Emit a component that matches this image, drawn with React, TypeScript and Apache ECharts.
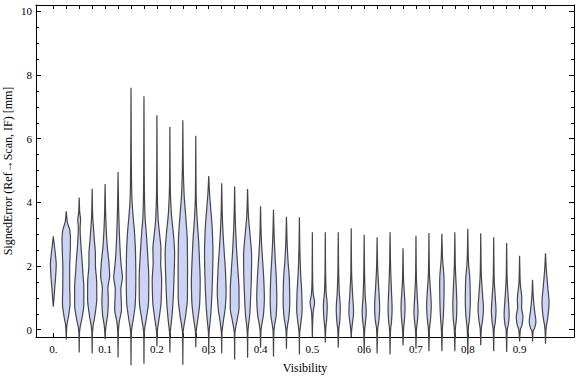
import React, { useEffect, useRef } from "react";
import * as echarts from "echarts";

// Violin positions are indices 0..38 (visibility 0, 0.025, ..., 0.95)
const xTickLabels = ["0.", "0.1", "0.2", "0.3", "0.4", "0.5", "0.6", "0.7", "0.8", "0.9"];
const xLabelPositions = [0, 4, 8, 12, 16, 20, 24, 28, 32, 36];
const violinPositions = [
  0, 1, 2, 3, 4, 5, 6, 7, 8, 9, 10, 11, 12, 13, 14, 15, 16, 17, 18, 19,
  20, 21, 22, 23, 24, 25, 26, 27, 28, 29, 30, 31, 32, 33, 34, 35, 36, 37, 38,
];
const yMajorTicks = [0, 2, 4, 6, 8, 10];
const yMinorTicks = [
  0, 0.5, 1, 1.5, 2, 2.5, 3, 3.5, 4, 4.5, 5, 5.5, 6, 6.5, 7, 7.5, 8, 8.5, 9, 9.5, 10,
];

// Each violin: [signed error (mm), density half-width] from max down to min
const violinProfiles: number[][][] = [
  [[2.93, 0], [2.6, 1.2], [2.3, 2.3], [2.05, 2.9], [1.7, 2.4], [1.3, 1.4], [0.95, 0.6], [0.72, 0]],
  [[3.72, 0], [3.4, 1.0], [3.1, 3.6], [2.85, 4.2], [2.4, 3.9], [1.9, 3.4], [1.3, 3.5], [0.85, 3.8], [0.45, 2.4], [0.12, 0.6], [-0.05, 0.3], [-0.31, 0]],
  [[4.15, 0], [3.7, 0.5], [3.45, 1.4], [3.2, 0.9], [2.7, 1.6], [2.2, 2.8], [1.8, 3.6], [1.3, 4.6], [0.8, 4.6], [0.4, 3.0], [0.05, 0.8], [-0.1, 0.3], [-0.72, 0]],
  [[4.43, 0], [3.6, 0.5], [3.2, 1.3], [2.8, 2.2], [2.4, 3.2], [2.0, 3.3], [1.5, 4.5], [1.0, 4.6], [0.5, 3.0], [0.1, 0.9], [-0.1, 0.3], [-0.75, 0]],
  [[4.58, 0], [3.7, 0.5], [3.1, 1.2], [2.6, 2.2], [2.1, 3.8], [1.7, 4.5], [1.3, 2.8], [0.9, 3.2], [0.5, 2.6], [0.1, 0.8], [-0.1, 0.3], [-0.3, 0]],
  [[4.95, 0], [3.9, 0.5], [3.3, 1.0], [2.8, 1.6], [2.4, 2.2], [2.0, 3.2], [1.65, 4.3], [1.25, 2.8], [0.65, 3.4], [0.2, 1.0], [-0.1, 0.3], [-0.87, 0]],
  [[7.6, 0], [5.0, 0.4], [4.2, 0.8], [3.6, 2.0], [3.0, 3.6], [2.4, 4.5], [1.6, 4.8], [0.9, 4.4], [0.4, 2.6], [0.05, 0.8], [-0.1, 0.3], [-1.12, 0]],
  [[7.33, 0], [4.5, 0.4], [3.6, 1.0], [3.0, 2.4], [2.3, 3.8], [1.6, 4.8], [0.9, 4.6], [0.4, 2.6], [0.05, 0.8], [-0.1, 0.3], [-1.07, 0]],
  [[6.74, 0], [4.3, 0.4], [3.5, 1.2], [2.9, 3.0], [2.55, 4.0], [2.1, 3.8], [1.55, 4.7], [0.9, 4.2], [0.4, 2.4], [0.05, 0.8], [-0.1, 0.3], [-0.53, 0]],
  [[6.37, 0], [4.5, 0.4], [3.7, 1.4], [3.0, 3.5], [2.4, 4.7], [1.7, 4.2], [0.9, 3.2], [0.4, 2.0], [0.05, 0.8], [-0.1, 0.3], [-0.72, 0]],
  [[6.58, 0], [5.2, 0.4], [4.3, 1.2], [3.6, 2.8], [2.8, 4.4], [1.9, 4.7], [1.0, 4.6], [0.45, 2.8], [0.05, 0.8], [-0.1, 0.3], [-1.1, 0]],
  [[6.09, 0], [4.2, 0.4], [3.5, 1.3], [2.8, 2.8], [2.1, 3.8], [1.5, 4.4], [0.9, 4.0], [0.4, 2.4], [0.05, 0.8], [-0.1, 0.3], [-0.55, 0]],
  [[4.83, 0], [4.3, 0.8], [3.8, 2.0], [3.1, 3.6], [2.4, 4.2], [1.7, 3.8], [1.0, 3.0], [0.4, 1.8], [0.05, 0.7], [-0.1, 0.3], [-0.78, 0]],
  [[4.6, 0], [3.6, 0.6], [2.9, 1.6], [2.4, 2.6], [1.8, 3.8], [1.2, 4.4], [0.7, 3.6], [0.3, 1.8], [0.0, 0.6], [-0.1, 0.3], [-0.75, 0]],
  [[4.5, 0], [3.5, 0.6], [2.6, 1.8], [1.9, 3.2], [1.2, 4.4], [0.7, 4.4], [0.3, 2.4], [0.0, 0.7], [-0.1, 0.3], [-0.94, 0]],
  [[4.42, 0], [3.6, 0.8], [3.0, 2.4], [2.3, 4.0], [1.7, 3.8], [1.0, 3.0], [0.5, 2.2], [0.1, 0.8], [-0.1, 0.3], [-0.88, 0]],
  [[3.88, 0], [3.0, 0.6], [2.3, 1.8], [1.6, 3.2], [1.0, 3.8], [0.5, 3.0], [0.15, 1.2], [-0.05, 0.4], [-0.57, 0]],
  [[3.77, 0], [3.0, 0.6], [2.3, 1.6], [1.6, 2.8], [1.0, 3.3], [0.5, 2.8], [0.15, 1.2], [-0.05, 0.4], [-0.84, 0]],
  [[3.55, 0], [2.8, 0.6], [2.2, 1.5], [1.5, 3.0], [0.9, 3.3], [0.45, 2.6], [0.15, 1.2], [-0.05, 0.4], [-0.6, 0]],
  [[3.53, 0], [2.6, 0.4], [1.8, 1.2], [1.1, 2.4], [0.65, 2.7], [0.3, 1.8], [0.0, 0.6], [-0.1, 0.3], [-0.78, 0]],
  [[3.06, 0], [1.6, 0.3], [1.15, 0.8], [0.85, 2.2], [0.55, 0.8], [0.2, 0.3], [-0.23, 0]],
  [[3.06, 0], [1.8, 0.3], [1.2, 0.8], [0.75, 1.9], [0.35, 1.4], [0.05, 0.5], [-0.4, 0]],
  [[3.06, 0], [1.8, 0.4], [1.2, 1.0], [0.65, 2.0], [0.25, 1.4], [0.0, 0.5], [-0.57, 0]],
  [[3.19, 0], [1.8, 0.4], [1.2, 1.2], [0.55, 2.3], [0.2, 1.2], [0.0, 0.5], [-0.23, 0]],
  [[2.98, 0], [1.8, 0.4], [1.1, 1.0], [0.55, 2.0], [0.2, 1.2], [0.0, 0.5], [-0.75, 0]],
  [[2.9, 0], [2.0, 0.5], [1.4, 1.4], [0.7, 2.5], [0.3, 1.8], [0.0, 0.5], [-0.75, 0]],
  [[3.06, 0], [2.0, 0.5], [1.2, 1.4], [0.65, 2.0], [0.25, 1.4], [0.0, 0.5], [-0.78, 0]],
  [[2.56, 0], [1.6, 0.5], [1.1, 1.4], [0.7, 2.0], [0.3, 1.4], [0.0, 0.5], [-0.5, 0]],
  [[2.95, 0], [1.7, 0.4], [1.1, 1.2], [0.55, 2.0], [0.2, 1.2], [0.0, 0.5], [-0.6, 0]],
  [[3.04, 0], [1.8, 0.5], [1.2, 1.6], [0.75, 2.3], [0.3, 1.5], [0.0, 0.5], [-0.68, 0]],
  [[3.01, 0], [2.3, 0.6], [1.5, 2.2], [0.9, 2.0], [0.4, 1.4], [0.0, 0.5], [-0.68, 0]],
  [[3.06, 0], [2.0, 0.5], [1.2, 1.6], [0.8, 2.0], [0.4, 1.7], [0.0, 0.5], [-0.68, 0]],
  [[3.17, 0], [2.2, 0.6], [1.5, 2.2], [0.9, 2.5], [0.4, 1.8], [0.0, 0.5], [-0.78, 0]],
  [[3.03, 0], [1.8, 0.5], [1.1, 1.8], [0.65, 2.7], [0.3, 1.8], [0.0, 0.5], [-0.49, 0]],
  [[2.9, 0], [1.6, 0.5], [1.0, 1.6], [0.6, 2.3], [0.25, 1.6], [0.0, 0.5], [-0.68, 0]],
  [[2.72, 0], [1.6, 0.5], [1.0, 1.6], [0.45, 2.5], [0.15, 1.6], [0.0, 0.6], [-0.7, 0]],
  [[2.32, 0], [1.5, 0.6], [0.95, 2.2], [0.7, 2.0], [0.4, 3.3], [0.15, 2.4], [0.0, 0.8], [-0.37, 0]],
  [[1.57, 0], [1.1, 0.6], [0.6, 2.0], [0.25, 3.3], [0.05, 2.0], [-0.05, 0.6], [-0.37, 0]],
  [[2.4, 0], [1.9, 0.8], [1.3, 2.4], [0.85, 3.5], [0.4, 2.4], [0.1, 0.8], [-0.05, 0.4], [-0.44, 0]],
];

const FONT = "'Liberation Serif', 'Times New Roman', serif";
const SLOT_PX = 12.95; // density half-widths were read in pixels of a 12.95px slot

function monotoneSampler(knotsDesc: number[][]) {
  const k = knotsDesc.slice().sort((a, b) => a[0] - b[0]);
  const n = k.length;
  const xs = k.map((p) => p[0]);
  const ys = k.map((p) => p[1]);
  const d: number[] = [];
  for (let i = 0; i < n - 1; i++) d.push((ys[i + 1] - ys[i]) / (xs[i + 1] - xs[i]));
  const m: number[] = new Array(n).fill(0);
  m[0] = d[0];
  m[n - 1] = d[n - 2];
  for (let i = 1; i < n - 1; i++) {
    if (d[i - 1] * d[i] <= 0) m[i] = 0;
    else {
      const h0 = xs[i] - xs[i - 1];
      const h1 = xs[i + 1] - xs[i];
      m[i] = (3 * (h0 + h1)) / ((2 * h1 + h0) / d[i - 1] + (h1 + 2 * h0) / d[i]);
    }
  }
  return (x: number) => {
    let i = 0;
    while (i < n - 2 && x > xs[i + 1]) i++;
    const h = xs[i + 1] - xs[i];
    const t = Math.min(1, Math.max(0, (x - xs[i]) / h));
    const t2 = t * t;
    const t3 = t2 * t;
    const v =
      (2 * t3 - 3 * t2 + 1) * ys[i] +
      (t3 - 2 * t2 + t) * h * m[i] +
      (-2 * t3 + 3 * t2) * ys[i + 1] +
      (t3 - t2) * h * m[i + 1];
    return Math.max(0, v);
  };
}

export default function App() {
  const ref = useRef<HTMLDivElement>(null);

  useEffect(() => {
    if (!ref.current) return;
    const chart = echarts.init(ref.current, undefined, { renderer: "svg" });

    const renderItem = (params: any, api: any) => {
      const idx = api.value(0);
      const prof = violinProfiles[idx];
      const vmax = prof[0][0];
      const vmin = prof[prof.length - 1][0];
      const f = monotoneSampler(prof);
      const unitPx = api.size([1, 0])[0];
      const scale = unitPx / SLOT_PX;
      const steps = 160;
      const right: number[][] = [];
      const left: number[][] = [];
      for (let s = 0; s <= steps; s++) {
        const v = vmin + ((vmax - vmin) * s) / steps;
        const c = api.coord([idx, v]);
        const w = f(v) * scale;
        right.push([c[0] + w, c[1]]);
        left.push([c[0] - w, c[1]]);
      }
      const points = right.concat(left.reverse());
      return {
        type: "polygon",
        shape: { points },
        style: { fill: "#ccd4f5", stroke: "#464646", lineWidth: 1.2 },
      };
    };

    const xMin = -1.336;
    const xMax = 40.2;
    const yMin = -0.23;
    const yMax = 10.2;
    const lineStyle = { color: "#000", width: 1 };

    chart.setOption({
      animation: false,
      grid: { left: 36, right: 2, top: 5, bottom: 40, containLabel: false, outerBoundsMode: "none" },
      xAxis: [
        {
          type: "value",
          position: "bottom",
          min: xMin,
          max: xMax,
          splitLine: { show: false },
          axisLine: { show: true, lineStyle, onZero: false },
          axisTick: { show: true, inside: true, length: 4, lineStyle, customValues: violinPositions },
          axisLabel: {
            show: true,
            margin: 6,
            customValues: xLabelPositions,
            fontFamily: FONT,
            fontSize: 11,
            color: "#000",
            formatter: (v: number) => xTickLabels[xLabelPositions.indexOf(Math.round(v))] ?? "",
          },
          name: "Visibility",
          nameLocation: "middle",
          nameGap: 25,
          nameMoveOverlap: false,
          nameTextStyle: { fontFamily: FONT, fontSize: 12, color: "#000", verticalAlign: "top" },
        },
        {
          type: "value",
          position: "top",
          min: xMin,
          max: xMax,
          splitLine: { show: false },
          axisLine: { show: true, lineStyle, onZero: false },
          axisTick: { show: true, inside: true, length: 4, lineStyle, customValues: violinPositions },
          axisLabel: { show: false },
        },
      ],
      yAxis: [
        {
          type: "value",
          position: "left",
          min: yMin,
          max: yMax,
          splitLine: { show: false },
          axisLine: { show: true, lineStyle, onZero: false },
          axisTick: { show: true, inside: true, length: 5, lineStyle, customValues: yMajorTicks },
          axisLabel: {
            show: true,
            margin: 4,
            customValues: yMajorTicks,
            fontFamily: FONT,
            fontSize: 11,
            color: "#000",
            formatter: (v: number) => String(Math.round(v)),
          },
          name: "SignedError (Ref\u2192Scan, IF) [mm]",
          nameLocation: "middle",
          nameGap: 22,
          nameRotate: 90,
          nameMoveOverlap: false,
          nameTextStyle: { fontFamily: FONT, fontSize: 12, color: "#000" },
        },
        {
          type: "value",
          position: "left",
          min: yMin,
          max: yMax,
          splitLine: { show: false },
          axisLine: { show: false, onZero: false },
          axisTick: { show: true, inside: true, length: 3, lineStyle, customValues: yMinorTicks },
          axisLabel: { show: false },
        },
        {
          type: "value",
          position: "right",
          min: yMin,
          max: yMax,
          splitLine: { show: false },
          axisLine: { show: true, lineStyle, onZero: false },
          axisTick: { show: true, inside: true, length: 5, lineStyle, customValues: yMajorTicks },
          axisLabel: { show: false },
        },
        {
          type: "value",
          position: "right",
          min: yMin,
          max: yMax,
          splitLine: { show: false },
          axisLine: { show: false, onZero: false },
          axisTick: { show: true, inside: true, length: 3, lineStyle, customValues: yMinorTicks },
          axisLabel: { show: false },
        },
      ],
      series: [
        {
          type: "custom",
          xAxisIndex: 0,
          yAxisIndex: 0,
          clip: false,
          renderItem,
          encode: { x: 0, y: 1 },
          data: violinPositions.map((i) => [i, violinProfiles[i][0][0]]),
        },
      ],
    });

    return () => chart.dispose();
  }, []);

  return (
    <div
      ref={ref}
      style={{ position: "fixed", left: 0, top: 0, width: 576, height: 377, background: "#fff" }}
    />
  );
}
